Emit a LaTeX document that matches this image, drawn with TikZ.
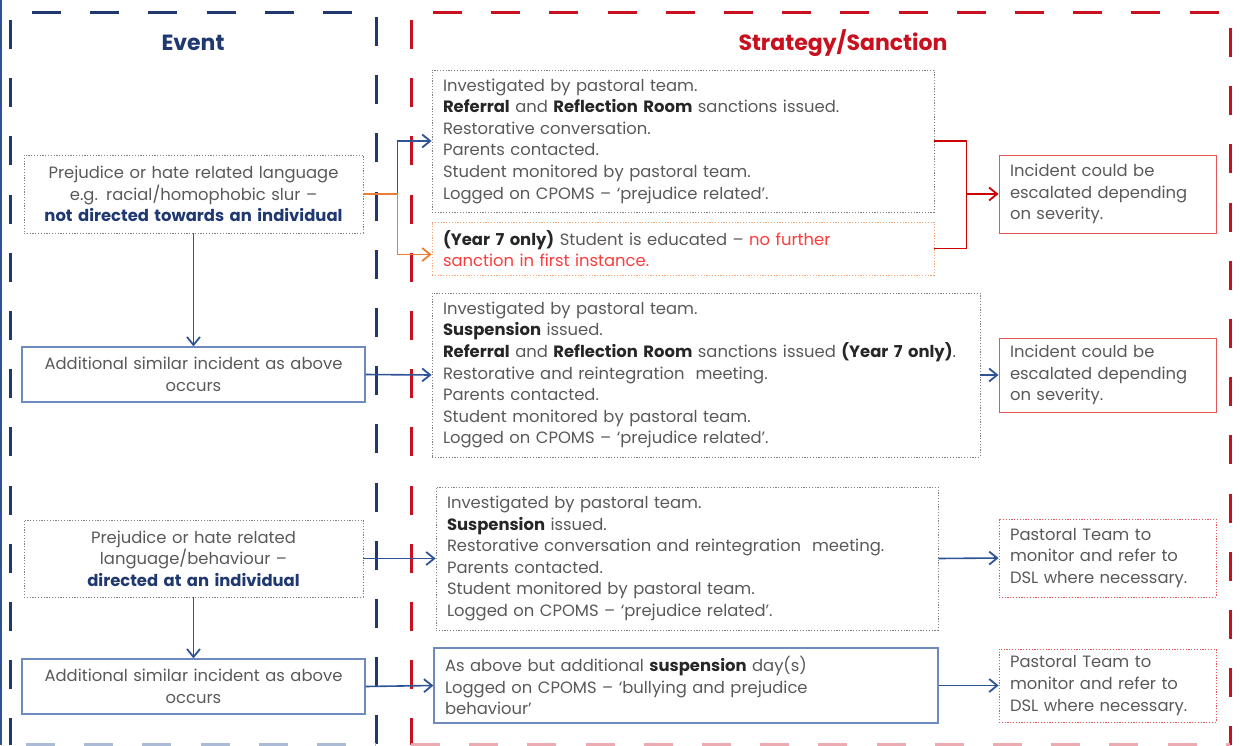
\documentclass[tikz,border=0pt]{standalone}
\usepackage{fontspec}
\setmainfont{Poppins}
\usetikzlibrary{arrows.meta}

\definecolor{navy}{RGB}{31,56,112}
\definecolor{linkblue}{RGB}{47,84,150}
\definecolor{boxblue}{RGB}{110,138,190}
\definecolor{framered}{RGB}{200,16,30}
\definecolor{linkred}{RGB}{204,0,0}
\definecolor{boxred}{RGB}{226,88,88}
\definecolor{txtgray}{RGB}{89,89,89}
\definecolor{txtdark}{RGB}{38,38,38}
\definecolor{dotgray}{RGB}{128,128,128}
\definecolor{dotorange}{RGB}{245,165,115}
\definecolor{linkorange}{RGB}{237,125,49}
\definecolor{alertred}{RGB}{250,60,60}

\newcommand{\darkbf}[1]{\textbf{\textcolor{txtdark}{#1}}}

\tikzset{
    every node/.style={font=\fontsize{16.4pt}{21.6pt}\selectfont, text=txtgray, inner ysep=0pt, inner xsep=11pt},
    dotbox/.style={draw=dotgray, line width=0.8pt, dash pattern=on 1.2pt off 1.6pt},
    orbox/.style={draw=dotorange, line width=0.8pt, dash pattern=on 1.2pt off 1.6pt},
    redbox/.style={draw=boxred, line width=1pt},
    reddot/.style={draw=boxred, line width=0.8pt, dash pattern=on 1.2pt off 1.6pt},
    bluebox/.style={draw=boxblue, line width=1.2pt},
    arrowed/.style={-{Straight Barb[length=8pt,width=13pt,line width=1.8pt]}},
    blink/.style={draw=linkblue, line width=1.6pt, arrowed},
    olink/.style={draw=linkorange, line width=1.6pt, arrowed},
    rlink/.style={draw=linkred, line width=1.6pt},
    bframe/.style={draw=navy, line width=3pt, dash pattern=on 29pt off 29.2pt},
    rframe/.style={draw=framered, line width=3pt, dash pattern=on 29pt off 29.2pt}
}

\begin{document}
\begin{tikzpicture}[x=1pt,y=-1pt]
    \useasboundingbox (0,0) rectangle (1240,745);

    \draw[line width=2pt, linkblue] (1,0) -- (1,745);
    \draw[bframe] (32,12) -- (353,12);
    \draw[bframe] (10,20) -- (10,745);
    \draw[bframe] (376,17) -- (376,745);
    \draw[bframe, draw=linkblue!40] (26,744) -- (376,744);

    \draw[rframe] (433,12) -- (1226,12);
    \draw[rframe] (411,20) -- (411,745);
    \draw[rframe] (1230,28) -- (1230,745);
    \draw[rframe, draw=framered!35] (411,744) -- (1230,744);

    \node[font=\fontsize{22pt}{26pt}\bfseries, text=navy] (evhead) at (193,43) {Event};
    \node[font=\fontsize{22pt}{26pt}\bfseries, text=framered] (sthead) at (843,43) {Strategy/Sanction};

    \node[dotbox, align=center, minimum width=339pt, minimum height=78pt, text width=317pt] (ev1) at (193.5,194)
        {Prejudice or hate related language\\ e.g. racial/homophobic slur --\\ \textcolor{navy}{\textbf{not directed towards an individual}}};
    \node[dotbox, align=left, minimum width=502pt, minimum height=142pt, text width=480pt] (st1) at (683,141)
        {Investigated by pastoral team.\\
        \darkbf{Referral} and \darkbf{Reflection Room} sanctions issued.\\
        Restorative conversation.\\
        Parents contacted.\\
        Student monitored by pastoral team.\\
        Logged on CPOMS -- ‘prejudice related’.};
    \node[orbox, align=left, minimum width=502pt, minimum height=53pt, text width=480pt] (st1b) at (683,248.5)
        {\darkbf{(Year 7 only)} Student is educated -- \textcolor{alertred}{no further}\\
        \textcolor{alertred}{sanction in first instance.}};
    \node[redbox, align=left, minimum width=217pt, minimum height=78pt, text width=195pt] (sev1) at (1107.5,194)
        {Incident could be\\ escalated depending\\ on severity.};

    \node[bluebox, align=center, minimum width=343pt, minimum height=55pt, text width=321pt] (ev2) at (193.5,374.5)
        {Additional similar incident as above\\ occurs};
    \node[dotbox, align=left, minimum width=548pt, minimum height=164pt, text width=526pt] (st2) at (706,375)
        {Investigated by pastoral team.\\
        \darkbf{Suspension} issued.\\
        \darkbf{Referral} and \darkbf{Reflection Room} sanctions issued \darkbf{(Year 7 only)}.\\
        Restorative and reintegration\ \ meeting.\\
        Parents contacted.\\
        Student monitored by pastoral team.\\
        Logged on CPOMS -- ‘prejudice related’.};
    \node[redbox, align=left, minimum width=217pt, minimum height=74pt, text width=195pt] (sev2) at (1107.5,375)
        {Incident could be\\ escalated depending\\ on severity.};

    \node[dotbox, align=center, minimum width=339pt, minimum height=77pt, text width=317pt] (ev3) at (193.5,558.5)
        {Prejudice or hate related\\ language/behaviour --\\ \textcolor{navy}{\textbf{directed at an individual}}};
    \node[dotbox, align=left, minimum width=502pt, minimum height=143pt, text width=480pt] (st3) at (687,558.5)
        {Investigated by pastoral team.\\
        \darkbf{Suspension} issued.\\
        Restorative conversation and reintegration\ \ meeting.\\
        Parents contacted.\\
        Student monitored by pastoral team.\\
        Logged on CPOMS -- ‘prejudice related’.};
    \node[reddot, align=left, minimum width=217pt, minimum height=78pt, text width=195pt] (mon1) at (1107.5,558)
        {Pastoral Team to\\ monitor and refer to\\ DSL where necessary.};

    \node[bluebox, align=center, minimum width=343pt, minimum height=55pt, text width=321pt] (ev4) at (193.5,686.5)
        {Additional similar incident as above\\ occurs};
    \node[bluebox, align=left, minimum width=504pt, minimum height=75pt, text width=482pt] (st4) at (686,685.5)
        {As above but additional \darkbf{suspension} day(s)\\
        Logged on CPOMS -- ‘bullying and prejudice\\
        behaviour’};
    \node[reddot, align=left, minimum width=217pt, minimum height=73pt, text width=195pt] (mon2) at (1107.5,685.5)
        {Pastoral Team to\\ monitor and refer to\\ DSL where necessary.};

    \draw[blink] (ev1.east) -- ++(34,0) |- (st1.west);
    \draw[olink] (ev1.east) -- ++(34,0) |- ([yshift=-6pt]st1b.west);
    \coordinate (rj) at ([xshift=-32pt]sev1.west);
    \draw[rlink] (st1.east) -| (rj) |- (st1b.east);
    \draw[rlink, arrowed] (rj) -- (sev1.west);

    \draw[blink] (ev1.south) -- (ev2.north);
    \draw[blink] (ev2.east) -- (st2.west);
    \draw[blink] (st2.east) -- (sev2.west);

    \draw[blink] (ev3.east) -- (st3.west);
    \draw[blink] (ev3.south) -- (ev4.north);
    \draw[blink] (ev4.east) -- (st4.west);
    \draw[blink] (st3.east) -- (mon1.west);
    \draw[blink] (st4.east) -- (mon2.west);

\end{tikzpicture}
\end{document}
